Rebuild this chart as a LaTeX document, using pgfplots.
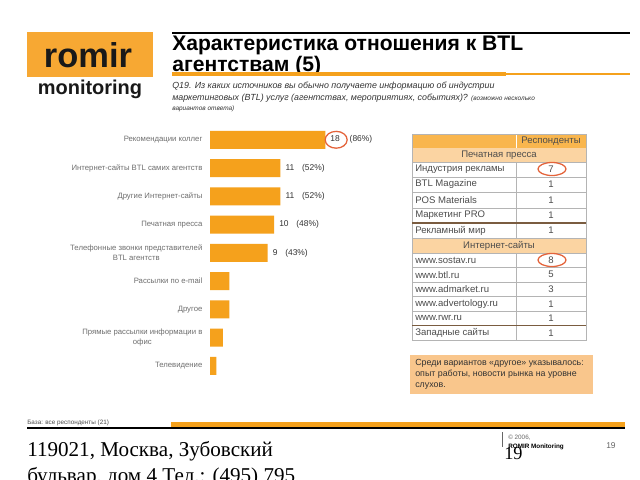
\documentclass[border=0pt]{standalone}
\usepackage{pgfplots}
\pgfplotsset{compat=1.18}
\usepackage{fontspec}
\setmainfont{Liberation Sans}
\newfontfamily\serif{Liberation Serif}
\definecolor{barorange}{HTML}{F5A11C}
\definecolor{logoorange}{HTML}{F7A833}
\definecolor{hdr}{HTML}{F9B64E}
\definecolor{sect}{HTML}{FBD4A2}
\definecolor{notebox}{HTML}{F9C68C}
\definecolor{ring}{HTML}{E4633A}
\definecolor{lbl}{HTML}{6E6E6E}
\definecolor{tline}{HTML}{B4B4B4}
\definecolor{tdark}{HTML}{7A5C40}
\newcommand{\fs}[2]{\fontsize{#1}{#2}\selectfont}

\begin{document}
\begin{tikzpicture}[x=0.025cm,y=-0.025cm]
\clip (0,0) rectangle (640,480);
\fill[white] (0,0) rectangle (640,480);

% logo
\fill[logoorange] (27,32) rectangle (153,77);
\node[anchor=base, inner sep=0pt, font=\bfseries\fs{24.5}{24.5}, text=black!90] at (88,67) {romir};
\node[anchor=base, inner sep=0pt, font=\bfseries\fs{14.2}{14.2}, text=black!90] at (90,94) {monitoring};

% title
\draw[black, line width=1.5pt] (172,33) -- (630,33);
\node[anchor=north west, inner sep=0pt, align=left, font=\bfseries\fs{15}{11.3}] at (172,36)
  {Характеристика отношения к BTL\\агентствам (5)};
\fill[barorange] (172,71.5) rectangle (506,76);
\fill[barorange] (506,72.5) rectangle (630,75);

% question
\node[anchor=base west, inner sep=0pt, font=\itshape\fs{6.3}{6.3}, text=black!80] at (172,89)
  {Q19. Из каких источников вы обычно получаете информацию об индустрии};
\node[anchor=base west, inner sep=0pt, font=\itshape\fs{6.3}{6.3}, text=black!80] at (172,100)
  {маркетинговых (BTL) услуг (агентствах, мероприятиях, событиях)? {\fs{4.6}{4.6}(возможно несколько}};
\node[anchor=base west, inner sep=0pt, font=\itshape\fs{4.6}{4.6}, text=black!80] at (172,110)
  {вариантов ответа)};

% bar chart
\begin{axis}[
  at={(5.25cm,-9.5cm)}, anchor=south west,
  scale only axis, width=4cm, height=6.36cm,
  xbar, bar width=0.45cm,
  xmin=0, xmax=25, ymin=-0.5, ymax=8.5, y dir=reverse,
  axis line style={draw=none}, tick style={draw=none},
  xtick=\empty, ytick={0,...,8},
  yticklabels={Рекомендации коллег,Интернет-сайты BTL самих агентств,Другие Интернет-сайты,Печатная пресса,{Телефонные звонки представителей\\BTL агентств},Рассылки по e-mail,Другое,{Прямые рассылки информации в\\офис},Телевидение},
  yticklabel style={font=\fs{5.5}{7}, text=lbl, align=center, inner sep=1pt},
  nodes near coords, point meta=explicit symbolic,
  every node near coord/.append style={font=\fs{6}{6}, text=black!80, anchor=west, inner sep=0pt, xshift=3.5pt},
  clip=false,
]
\addplot[fill=barorange, draw=none] coordinates {
  (18,0) [{18\hspace{7pt}(86\%)}]
  (11,1) [{11\hspace{5.5pt}(52\%)}]
  (11,2) [{11\hspace{5.5pt}(52\%)}]
  (10,3) [{10\hspace{5.5pt}(48\%)}]
  (9,4)  [{9\hspace{5.5pt}(43\%)}]
  (3,5)  [{}]
  (3,6)  [{}]
  (2,7)  [{}]
  (1,8)  [{}]
};
\draw[ring, line width=0.9pt] (axis cs:19.7,0) ellipse [x radius=0.275cm, y radius=0.21cm];
\end{axis}

% table
\fill[hdr] (412,134) rectangle (586,148);
\fill[sect] (412,148) rectangle (586,162);
\fill[sect] (412,238) rectangle (586,253);
\draw[white, line width=0.6pt] (516,134) -- (516,148);
\node[font=\fs{6.8}{6.8}, text=black!70] at (551,141) {Респонденты};
\node[font=\fs{6.8}{6.8}, text=black!70] at (499,155) {Печатная пресса};
\node[font=\fs{6.8}{6.8}, text=black!70] at (499,245.5) {Интернет-сайты};
\foreach \t/\v/\ya/\yb in {
  Индустрия рекламы/7/162/177,
  BTL Magazine/1/177/192,
  POS Materials/1/192/208,
  Маркетинг PRO/1/208/223,
  Рекламный мир/1/223/238,
  www.sostav.ru/8/253/267.5,
  www.btl.ru/5/267.5/282,
  www.admarket.ru/3/282/296.5,
  www.advertology.ru/1/296.5/311,
  www.rwr.ru/1/311/325.5,
  Западные сайты/1/325.5/340}{
  \draw[tline, line width=0.5pt] (412,\yb) -- (586,\yb);
  \node[anchor=west, inner sep=0pt, font=\fs{6.8}{6.8}, text=black!70] at (415,{(\ya+\yb)/2}) {\t};
  \node[inner sep=0pt, font=\fs{6.8}{6.8}, text=black!70] at (551,{(\ya+\yb)/2}) {\v};
}
\draw[tline, line width=0.5pt] (412,162) -- (586,162) (412,238) -- (586,238) (412,253) -- (586,253);
\draw[tline, line width=0.6pt] (516,162) -- (516,238) (516,253) -- (516,340);
\draw[tline, line width=0.6pt] (412,134) rectangle (586,340);
\draw[tdark, line width=0.8pt] (412,223) -- (586,223) (412,325.5) -- (586,325.5);
\draw[ring, line width=0.9pt] (552,169) ellipse [x radius=14, y radius=6.5];
\draw[ring, line width=0.9pt] (552,260) ellipse [x radius=14, y radius=6.5];

% note box
\fill[notebox] (410,355) rectangle (593,394);
\node[anchor=north west, align=left, inner sep=0pt, font=\fs{6.3}{7.8}, text=black!80] at (415,359)
  {Среди вариантов «другое» указывалось:\\опыт работы, новости рынка на уровне\\слухов.};

% footer
\node[anchor=base west, inner sep=0pt, font=\fs{4.5}{4.5}, text=black!70] at (27,424) {База: все респонденты (21)};
\fill[barorange] (171,422) rectangle (625,426.5);
\draw[black, line width=1.4pt] (27,428) -- (625,428);
\node[anchor=base west, inner sep=0pt, font=\serif\fs{15}{15}] at (27,456) {119021, Москва, Зубовский};
\node[anchor=base west, inner sep=0pt, font=\serif\fs{15}{15}] at (27,482) {бульвар, дом 4 Тел.: (495) 795};
\draw[black!60, line width=0.5pt] (502,432) -- (502,447);
\node[anchor=base west, inner sep=0pt, font=\fs{4.5}{4.5}, text=black!60] at (508,439) {© 2006,};
\node[anchor=base west, inner sep=0pt, font=\bfseries\fs{4.5}{4.5}] at (508,448) {ROMIR Monitoring};
\node[anchor=base west, inner sep=0pt, font=\serif\fs{13}{13}] at (504,459) {19};
\node[anchor=base west, inner sep=0pt, font=\fs{6}{6}, text=black!60] at (606,448) {19};
\end{tikzpicture}
\end{document}
